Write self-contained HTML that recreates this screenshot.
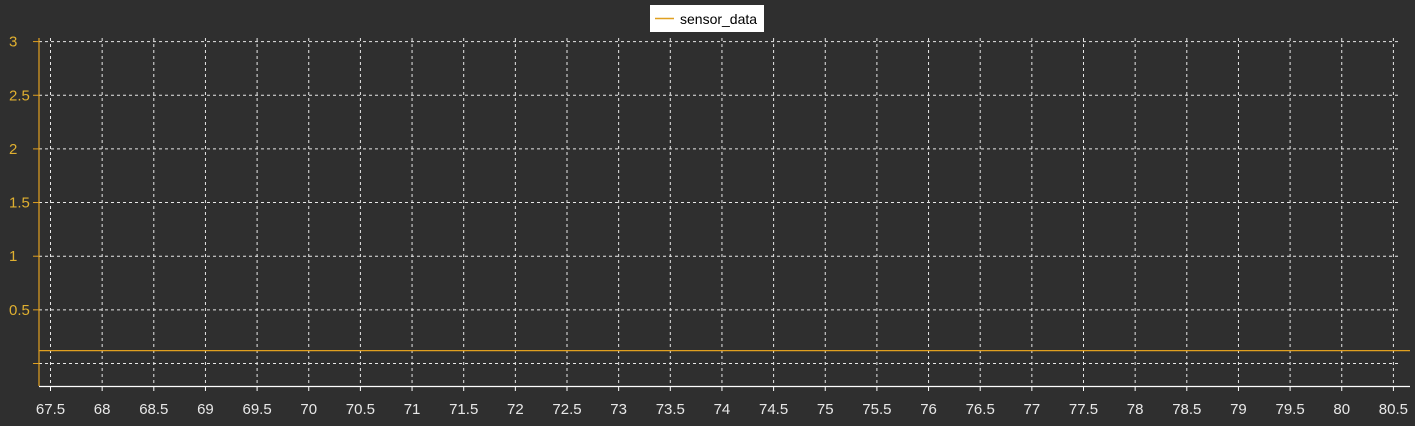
<!DOCTYPE html>
<html><head><meta charset="utf-8"><style>
html,body{margin:0;padding:0;background:#2f2f2f;}
svg{display:block;font-family:"Liberation Sans",sans-serif;}
</style></head><body>
<svg id="chart" width="1415" height="426" xmlns="http://www.w3.org/2000/svg">
<rect width="1415" height="426" fill="#2f2f2f"/>
<g id="grid"></g>
<g id="axes"></g>
<g id="series"></g>
<g>
<rect x="650" y="5" width="114" height="27" fill="#ffffff"/>
<line x1="655" y1="18.5" x2="674" y2="18.5" stroke="#e0a020" stroke-width="1.5"/>
<text x="680" y="24" font-size="14" fill="#000">sensor_data</text>
</g>
</svg>
<script>
const xTicks=[67.5,68,68.5,69,69.5,70,70.5,71,71.5,72,72.5,73,73.5,74,74.5,75,75.5,76,76.5,77,77.5,78,78.5,79,79.5,80,80.5];
const yTicks=[0,0.5,1,1.5,2,2.5,3];
const yTickLabels=["","0.5","1","1.5","2","2.5","3"];
const seriesX=[67.3,80.7];
const seriesY=[0.12,0.12];
const NS="http://www.w3.org/2000/svg";
function X(v){return 50.5+(v-67.5)*103.3;}
function Y(v){return 363.5-v*107.3;}
function mk(tag,attrs,parent){const e=document.createElementNS(NS,tag);for(const k in attrs)e.setAttribute(k,attrs[k]);parent.appendChild(e);return e;}
const grid=document.getElementById('grid'),axes=document.getElementById('axes'),series=document.getElementById('series');
xTicks.forEach(v=>{
 const l=mk('line',{x1:X(v),x2:X(v),y1:38,y2:386,stroke:'#e8e8e8','stroke-dasharray':'3,3','stroke-width':1},grid);
 
 
 const t=mk('line',{x1:X(v),x2:X(v),y1:386,y2:391,stroke:'#ffffff','stroke-width':1},axes);
 
 
 const tx=mk('text',{x:X(v),y:414,'text-anchor':'middle','font-size':15,fill:'#e8e8e8'},axes);
 tx.textContent=String(v);
 
 
});
yTicks.forEach((v,i)=>{
 const l=mk('line',{x1:39,x2:1398,y1:Y(v),y2:Y(v),stroke:'#e8e8e8','stroke-dasharray':'3,3','stroke-width':1},grid);
 
 
 const t=mk('line',{x1:33,x2:39,y1:Y(v),y2:Y(v),stroke:'#e0a020','stroke-width':1},axes);
 
 
 const tx=mk('text',{x:9,y:Y(v)+5,'text-anchor':'start','font-size':15,fill:'#e0b030'},axes);
 tx.textContent=yTickLabels[i];
 
 
});
const ya=mk('line',{x1:39,x2:39,y1:38,y2:386,stroke:'#e0a020','stroke-width':1.2},axes);


const xa=mk('line',{x1:39,x2:1410,y1:386.5,y2:386.5,stroke:'#ffffff','stroke-width':1.2},axes);


const pts=seriesX.map((x,i)=>Math.min(1410,Math.max(39,X(x)))+','+Y(seriesY[i])).join(' ');
const pl=mk('polyline',{points:pts,fill:'none',stroke:'#e0a020','stroke-width':1.2},series);


</script>
</body></html>
